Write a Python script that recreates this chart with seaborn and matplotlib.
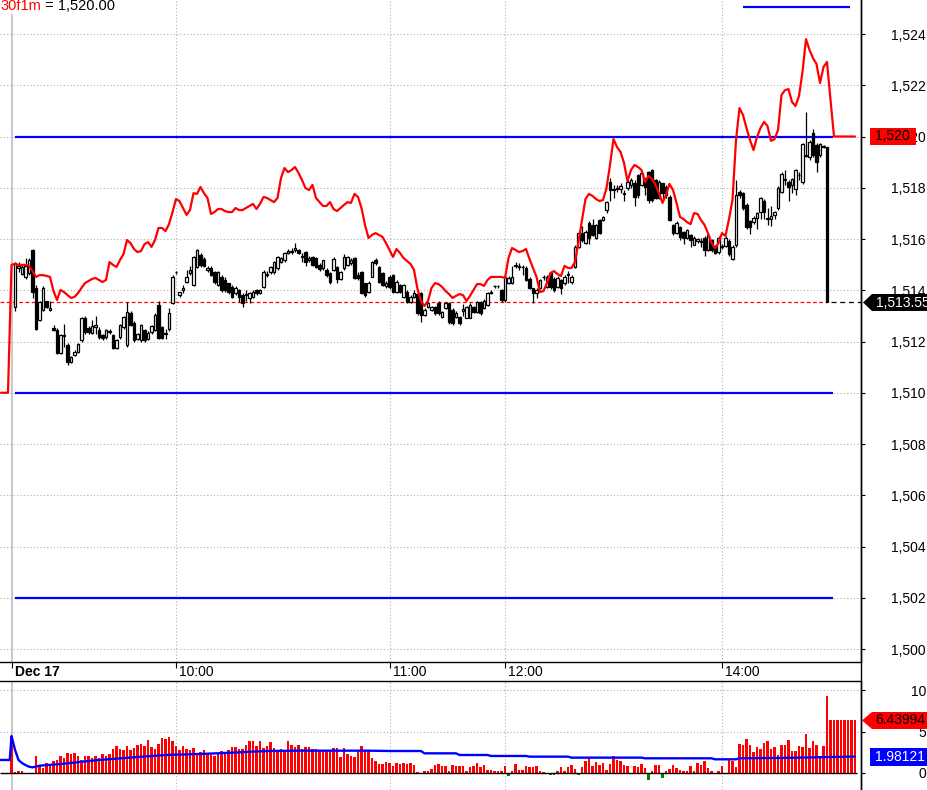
import numpy as np
import matplotlib
matplotlib.use("Agg")
import matplotlib.pyplot as plt
import seaborn as sns
from matplotlib.patches import Polygon
from matplotlib.lines import Line2D

# ---------------- data ----------------
opens = [
1513.35,1514.85,1514.65,1514.50,1514.67,1515.57,1514.10,1512.84,1513.23,1513.58,
1513.23,1512.53,1512.45,1511.55,1512.25,1511.87,1511.20,1511.48,1511.60,1512.06,
1512.92,1512.52,1512.35,1512.55,1512.45,1512.25,1512.17,1512.37,1512.25,1511.75,
1512.17,1512.55,1511.87,1513.11,1512.72,1512.10,1512.06,1512.45,1512.10,1512.37,
1512.45,1513.42,1512.55,1512.30,1512.50,1513.50,1514.70,1513.80,1514.00,1514.33,
1514.67,1514.20,1514.90,1515.37,1515.22,1514.79,1514.87,1514.71,1514.20,1514.52,
1514.40,1514.28,1514.13,1513.89,1514.01,1513.82,1513.80,1513.70,1513.74,1514.01,
1513.89,1514.13,1514.60,1514.71,1514.71,1514.87,1515.10,1515.18,1515.45,1515.50,
1515.57,1515.57,1515.30,1515.50,1515.18,1515.30,1515.26,1514.98,1514.87,1514.79,
1514.67,1514.79,1514.90,1514.44,1514.87,1514.98,1515.06,1515.26,1514.60,1514.71,
1514.28,1513.93,1514.52,1515.18,1514.90,1514.67,1514.17,1514.52,1514.60,1513.93,
1514.20,1513.74,1513.93,1513.54,1513.74,1513.85,1513.89,1513.03,1513.35,1513.23,
1513.35,1513.50,1512.95,1513.30,1513.50,1513.23,1512.95,1512.95,1513.20,1512.92,
1512.92,1513.35,1513.15,1513.54,1513.30,1513.42,1513.90,1514.15,1514.17,1514.01,
1513.62,1514.28,1514.30,1514.95,1514.90,1514.92,1514.87,1514.44,1514.09,1513.89,
1514.09,1514.50,1514.13,1514.67,1514.44,1514.13,1514.40,1514.28,1514.60,1514.32,
1514.90,1515.69,1516.23,1515.84,1516.62,1516.55,1516.04,1516.74,1516.75,1517.13,
1518.22,1517.90,1517.95,1517.95,1517.75,1517.99,1518.10,1518.18,1518.50,1518.10,
1518.38,1518.60,1518.69,1518.30,1517.60,1518.18,1518.03,1517.64,1516.55,1516.23,
1516.47,1516.27,1516.04,1516.16,1515.77,1515.92,1515.88,1516.04,1515.57,1515.96,
1515.69,1515.49,1515.70,1515.73,1515.92,1515.22,1515.77,1517.83,1517.80,1517.33,
1516.70,1516.66,1516.82,1517.05,1517.48,1516.80,1516.78,1516.93,1517.21,1517.83,
1518.30,1518.22,1518.10,1517.95,1518.48,1518.22,1519.25,1519.20,1520.13,1519.67,
1519.28,1519.60,1519.59]

highs = [
1515.10,1515.10,1515.00,1515.25,1515.25,1515.60,1514.20,1513.60,1514.15,1513.60,
1513.60,1512.65,1512.53,1512.30,1512.70,1511.95,1511.45,1511.65,1511.95,1512.95,
1513.00,1512.60,1512.85,1513.00,1512.55,1512.30,1512.50,1512.50,1512.30,1512.10,
1512.70,1513.00,1513.55,1513.20,1512.80,1512.35,1512.70,1512.50,1512.40,1512.65,
1513.10,1513.60,1512.60,1512.50,1513.30,1514.60,1514.75,1513.95,1514.20,1514.80,
1514.95,1515.35,1515.60,1515.45,1515.30,1514.95,1514.95,1514.75,1514.75,1514.60,
1514.50,1514.30,1514.20,1514.15,1514.05,1513.90,1514.00,1513.95,1514.00,1514.05,
1514.05,1514.80,1514.75,1514.95,1515.15,1515.35,1515.30,1515.50,1515.60,1515.65,
1515.85,1515.60,1515.45,1515.55,1515.35,1515.35,1515.30,1515.05,1515.20,1514.85,
1514.70,1515.30,1514.95,1514.75,1515.40,1515.35,1515.25,1515.30,1514.70,1514.75,
1514.30,1514.35,1515.15,1515.25,1514.95,1514.70,1514.35,1514.60,1514.65,1514.40,
1514.25,1514.25,1514.00,1513.80,1514.00,1513.90,1513.95,1513.30,1513.55,1513.40,
1513.40,1513.60,1513.20,1513.55,1513.55,1513.30,1513.20,1513.00,1513.45,1513.40,
1513.50,1513.40,1513.60,1513.60,1513.65,1513.95,1514.00,1514.20,1514.20,1514.05,
1514.60,1514.55,1514.95,1515.10,1515.05,1515.00,1514.95,1514.50,1514.10,1514.10,
1514.45,1514.60,1514.60,1514.75,1514.50,1514.55,1514.45,1514.60,1514.75,1514.60,
1515.75,1516.30,1516.50,1516.35,1516.70,1516.80,1516.60,1516.80,1516.90,1517.50,
1518.40,1518.10,1518.10,1518.20,1517.90,1518.30,1518.40,1518.30,1518.55,1518.60,
1518.40,1518.65,1518.75,1518.35,1518.30,1518.20,1518.10,1517.70,1516.60,1516.70,
1516.50,1516.30,1516.40,1516.20,1516.10,1516.05,1516.05,1516.10,1516.20,1516.00,
1515.75,1516.10,1515.80,1516.10,1516.00,1515.75,1518.30,1517.90,1517.85,1517.40,
1516.75,1516.90,1517.05,1517.65,1517.55,1517.20,1517.30,1517.10,1518.05,1518.60,
1518.70,1518.30,1518.40,1518.75,1518.60,1519.75,1520.95,1519.85,1520.30,1519.75,
1519.75,1519.65,1519.60]

lows = [
1513.20,1514.70,1514.60,1514.45,1514.60,1513.70,1512.45,1512.80,1513.20,1513.30,
1513.20,1512.40,1511.50,1511.50,1511.80,1511.10,1511.15,1511.45,1511.55,1512.00,
1512.30,1512.30,1512.30,1512.30,1512.10,1512.05,1512.10,1512.30,1511.70,1511.70,
1512.10,1512.50,1511.80,1512.60,1512.00,1512.05,1512.00,1512.00,1512.05,1512.30,
1512.40,1512.10,1512.10,1512.10,1512.40,1513.45,1514.65,1513.75,1513.90,1514.30,
1514.60,1514.15,1514.85,1514.90,1514.90,1514.70,1514.55,1514.25,1514.15,1513.95,
1513.95,1513.85,1513.70,1513.80,1513.55,1513.35,1513.60,1513.50,1513.70,1513.80,
1513.85,1514.10,1514.50,1514.65,1514.65,1514.80,1515.05,1515.10,1515.40,1515.40,
1515.50,1515.40,1515.10,1514.95,1515.10,1514.95,1514.85,1514.75,1514.80,1514.50,
1514.25,1514.75,1514.30,1514.40,1514.80,1514.95,1515.00,1514.45,1514.40,1513.85,
1513.75,1513.90,1514.50,1515.00,1514.30,1514.15,1514.10,1514.05,1513.90,1513.90,
1513.90,1513.70,1513.50,1513.50,1513.70,1513.05,1512.75,1513.00,1513.30,1513.20,
1513.05,1513.05,1512.90,1513.25,1512.70,1512.65,1512.90,1512.65,1513.00,1512.90,
1512.90,1513.10,1513.10,1513.05,1513.25,1513.40,1513.85,1514.10,1514.10,1513.55,
1513.55,1514.25,1514.25,1514.85,1514.80,1514.60,1514.35,1514.05,1513.50,1513.70,
1514.05,1514.40,1514.10,1514.05,1513.95,1514.10,1513.85,1514.20,1514.30,1514.25,
1514.85,1515.65,1515.90,1515.80,1515.80,1516.10,1516.00,1516.20,1516.70,1517.00,
1517.50,1517.60,1517.85,1517.80,1517.50,1517.90,1518.00,1517.30,1517.60,1518.05,
1517.70,1517.40,1517.45,1517.55,1517.55,1517.60,1517.60,1516.70,1516.15,1516.20,
1515.95,1515.80,1516.00,1515.70,1515.75,1515.85,1515.70,1515.35,1515.55,1515.50,
1515.40,1515.40,1515.60,1515.70,1515.35,1515.20,1515.70,1517.60,1517.15,1516.40,
1516.20,1516.60,1516.40,1516.80,1516.80,1516.55,1516.50,1516.80,1517.15,1517.80,
1518.10,1517.50,1517.80,1517.70,1518.30,1518.15,1519.20,1519.10,1519.20,1518.60,
1519.20,1519.55,1513.55]

closes = [
1515.06,1514.95,1514.90,1514.95,1515.18,1513.93,1512.50,1513.54,1514.09,1513.35,
1513.30,1512.45,1511.55,1512.25,1512.20,1511.20,1511.40,1511.60,1511.90,1512.92,
1512.37,1512.37,1512.60,1512.65,1512.17,1512.14,1512.45,1512.40,1511.75,1512.06,
1512.65,1512.95,1513.15,1512.65,1512.06,1512.30,1512.65,1512.06,1512.35,1512.60,
1513.03,1512.14,1512.14,1512.35,1513.10,1514.52,1514.71,1513.93,1514.10,1514.52,
1514.79,1515.30,1515.57,1514.98,1514.95,1514.87,1514.60,1514.32,1514.71,1514.01,
1514.01,1513.93,1513.74,1514.09,1513.74,1513.50,1513.85,1513.89,1513.93,1513.89,
1514.01,1514.71,1514.65,1514.90,1515.10,1515.30,1515.26,1515.45,1515.53,1515.50,
1515.65,1515.45,1515.30,1515.10,1515.26,1514.98,1514.90,1514.83,1515.18,1514.60,
1514.32,1515.22,1514.44,1514.71,1515.30,1515.30,1515.18,1514.48,1514.48,1513.89,
1513.82,1514.28,1515.10,1515.06,1514.32,1514.20,1514.28,1514.13,1513.93,1514.32,
1513.93,1514.20,1513.54,1513.74,1513.89,1513.11,1513.03,1513.23,1513.50,1513.35,
1513.11,1513.11,1513.15,1513.50,1512.76,1512.72,1513.11,1512.72,1513.25,1513.35,
1513.42,1513.15,1513.54,1513.11,1513.60,1513.89,1513.95,1514.17,1514.15,1513.62,
1514.52,1514.48,1514.50,1515.00,1514.95,1514.90,1514.40,1514.09,1513.89,1514.01,
1514.40,1514.52,1514.52,1514.13,1514.01,1514.48,1514.09,1514.52,1514.60,1514.52,
1515.69,1516.23,1515.96,1516.27,1516.04,1516.16,1516.55,1516.23,1516.85,1517.44,
1517.91,1517.95,1518.00,1518.05,1517.80,1518.22,1518.30,1517.64,1517.72,1518.57,
1518.03,1517.52,1517.52,1517.60,1518.22,1517.79,1517.72,1516.74,1516.23,1516.62,
1516.08,1516.04,1516.35,1515.96,1516.04,1516.00,1515.90,1515.57,1516.16,1515.57,
1515.45,1516.04,1515.72,1516.04,1515.41,1515.69,1517.72,1517.72,1517.21,1516.47,
1516.47,1516.82,1517.01,1517.60,1517.05,1516.82,1516.90,1517.05,1518.00,1518.53,
1518.32,1518.03,1518.34,1518.69,1518.50,1519.71,1519.28,1519.79,1519.28,1519.00,
1519.71,1519.62,1513.55]

# 30f1m reference line, starts 4 bars before the first candle
ref_start = -4
ref_line = [
1510.0,1510.0,1510.0,1514.99,
1515.03,1514.99,1514.99,1514.99,1514.95,1514.75,1514.52,1514.59,1514.59,1514.56,
1514.52,1513.97,1513.62,1514.01,1513.93,1513.81,1513.70,1513.74,1513.89,1514.09,
1514.28,1514.36,1514.44,1514.48,1514.40,1514.32,1514.40,1515.10,1514.99,1514.91,
1515.18,1515.41,1515.96,1515.84,1515.61,1515.49,1515.53,1515.80,1515.88,1515.69,
1515.96,1516.43,1516.43,1516.31,1516.58,1517.05,1517.56,1517.48,1517.21,1516.94,
1517.13,1517.79,1517.76,1518.03,1517.79,1517.60,1516.98,1517.05,1517.17,1517.17,
1517.09,1517.05,1517.05,1517.21,1517.13,1517.13,1517.21,1517.29,1517.37,1517.17,
1517.37,1517.64,1517.60,1517.52,1517.44,1517.60,1518.38,1518.77,1518.61,1518.69,
1518.81,1518.58,1518.30,1517.99,1517.91,1518.11,1517.60,1517.44,1517.29,1517.29,
1517.44,1517.17,1517.09,1517.21,1517.33,1517.44,1517.41,1517.76,1517.64,1517.21,
1516.55,1516.04,1516.16,1516.23,1516.16,1516.08,1515.84,1515.57,1515.30,1515.61,
1515.45,1515.26,1515.14,1515.03,1514.79,1514.05,1513.58,1513.39,1513.58,1514.09,
1514.28,1514.24,1514.13,1513.97,1513.85,1513.70,1513.78,1513.85,1513.81,1513.58,
1513.78,1514.01,1514.24,1514.24,1514.17,1514.40,1514.52,1514.52,1514.52,1514.52,
1514.48,1515.26,1515.65,1515.57,1515.49,1515.53,1515.61,1515.22,1514.87,1514.52,
1513.93,1513.97,1514.28,1514.67,1514.75,1514.63,1514.56,1514.95,1514.87,1514.87,
1515.10,1515.88,1516.74,1517.56,1517.76,1517.68,1517.56,1517.48,1517.52,1517.99,
1518.89,1519.90,1519.59,1519.40,1518.97,1518.26,1518.69,1518.89,1518.81,1518.69,
1518.22,1518.46,1518.34,1518.11,1517.79,1517.41,1517.72,1518.15,1517.91,1517.41,
1516.86,1516.78,1516.66,1516.58,1517.01,1516.98,1516.74,1516.55,1516.23,1515.84,
1515.65,1515.84,1516.23,1516.12,1516.78,1517.52,1519.86,1521.11,1520.84,1520.33,
1519.86,1519.47,1519.98,1520.33,1520.57,1520.41,1519.83,1519.90,1520.25,1521.62,
1521.81,1521.85,1521.35,1521.19,1521.58,1522.52,1523.80,1523.38,1523.06,1522.83,
1522.09,1522.71,1522.91,1521.43,1520.0,1520.0,1520.0,1520.0,1520.0,1520.0,1520.0]

# volume-type indicator (lower pane), same start as ref_line
volume = [
-0.05,-0.05,-0.05,4.45,
0.1,0.2,0.2,-0.05,-0.05,-0.05,2.0,1.0,0.6,1.2,
1.0,1.4,1.6,2.0,1.8,2.4,2.3,2.4,2.1,1.6,
2.0,2.0,1.8,2.1,1.8,2.3,2.1,2.3,2.9,3.2,
2.9,2.8,3.3,2.8,3.0,3.4,3.5,3.2,4.0,3.1,
2.9,3.5,4.2,4.1,4.3,3.9,3.2,2.8,3.2,2.9,
2.8,3.0,2.4,2.5,2.8,2.4,2.2,2.1,2.4,2.6,
2.4,2.8,3.1,3.1,2.9,2.9,3.4,3.8,3.8,3.2,
3.8,3.0,3.2,3.7,3.0,2.8,2.9,2.8,3.9,3.4,
3.1,3.4,2.9,3.1,3.1,2.9,2.9,2.6,2.8,2.6,
2.6,3.0,3.0,1.9,3.0,2.3,2.1,1.9,2.6,3.3,
2.8,2.6,1.8,1.4,1.1,1.1,1.3,1.2,0.9,1.2,
1.1,1.2,1.1,1.2,1.0,0.1,0.0,0.2,0.3,0.5,
1.0,1.1,0.9,0.8,0.2,1.0,0.8,0.8,0.8,0.3,
0.7,0.8,1.2,0.7,1.0,0.4,0.4,0.3,0.3,0.2,
0.9,-0.4,0.2,1.1,0.4,0.4,0.9,0.7,0.7,0.9,
0.3,0.1,-0.1,-0.2,-0.3,0.2,0.7,0.2,0.7,1.0,
0.5,-0.3,0.7,1.5,1.9,0.8,1.3,1.0,1.2,0.4,
1.1,2.1,1.6,1.5,1.0,0.8,-0.1,0.8,0.7,1.1,
0.6,-0.9,0.3,1.0,1.0,-0.6,0.3,0.5,1.0,0.6,
0.4,0.3,0.2,0.8,0.3,1.2,1.0,1.4,0.6,0.2,
0.05,0.2,0.8,0.0,1.7,1.4,0.7,3.5,3.4,4.1,
3.4,2.5,3.1,2.9,3.6,3.8,2.9,3.1,2.2,3.4,
3.4,4.0,2.7,2.7,3.2,3.1,4.7,3.0,3.8,3.4,
2.1,3.3,9.3,6.43994,6.43994,6.43994,6.43994,6.43994,6.43994,6.43994,6.43994]

vol_avg_bar = [-4.3, -1.5, -1, 0, 1, 2, 3, 4, 5, 7, 13, 24, 34, 43, 53, 62, 72, 81, 101, 107,
               116, 117, 126, 127, 135, 136, 146, 147, 158, 159, 179, 180, 199, 200, 206, 207, 220, 240]
vol_avg = [1.57, 1.57, 4.45, 2.8, 1.57, 1.2, 0.96, 0.76, 0.68, 0.88, 1.08, 1.57, 1.89, 2.17, 2.29, 2.45, 2.65, 2.69, 2.69, 2.65,
           2.65, 2.37, 2.37, 2.17, 2.17, 2.05, 2.05, 1.97, 1.97, 1.85, 1.85, 1.77, 1.77, 1.65, 1.65, 1.77, 1.82, 1.98121]

levels = [1520, 1510, 1502]
upper_level = 1525.04
time_ticks = [-1, 46, 107, 140, 202]
time_labels = ["Dec 17", "10:00", "11:00", "12:00", "14:00"]
price_ticks = list(range(1500, 1525, 2))
vol_ticks = [0, 5, 10]

# ---------------- figure ----------------
sns.set_theme(style="white")
plt.rcParams["font.family"] = ["Liberation Sans", "DejaVu Sans"]

W, H = 927, 790
fig = plt.figure(figsize=(W / 100, H / 100), dpi=100, facecolor="white")

def fx(px):
    return px / W

def fy(py):
    return 1 - py / H

ax = fig.add_axes([0, fy(662), fx(861), 662 / H])
axv = fig.add_axes([0, 0, fx(861), fy(681)])

XL = (-15 / 3.5, (861 - 15) / 3.5)
GRID = dict(color="#b0b0b0", linestyle=(0, (1, 2)), linewidth=0.8)

o = np.array(opens); h = np.array(highs); l = np.array(lows); c = np.array(closes)
idx = np.arange(len(o))
up = c >= o
bottom = np.minimum(o, c)
height = np.maximum(np.abs(c - o), 0.025)

# grid
for a in (ax, axv):
    for t in time_ticks:
        if t == time_ticks[0]:
            a.axvline(t, color="#c4c4c4", linewidth=1.3, zorder=0)
        else:
            a.axvline(t, zorder=0, **GRID)
for p in price_ticks:
    ax.axhline(p, zorder=0, **GRID)
for v in vol_ticks[1:]:
    axv.axhline(v, zorder=0, **GRID)

# level lines
ax.hlines(levels, 0, 233.7, colors="#0000ff", linewidth=1.6, zorder=2)
ax.hlines(upper_level, 208, 238.6, colors="#0000ff", linewidth=1.6, zorder=2)
# last price dashed line
ax.hlines(c[-1], XL[0], idx[-1], colors="#ff0000", linestyles=(0, (3, 2)), linewidth=0.9, zorder=1)
ax.hlines(c[-1], idx[-1] + 1.2, XL[1], colors="black", linestyles=(0, (4, 3)), linewidth=0.9, zorder=1)

# candles
ax.vlines(idx, l, h, colors="black", linewidth=0.9, zorder=3)
ax.bar(idx[up], height[up], bottom=bottom[up], width=0.8, color="white",
       edgecolor="black", linewidth=0.9, zorder=4)
ax.bar(idx[~up], height[~up], bottom=bottom[~up], width=0.8, color="black",
       edgecolor="black", linewidth=0.9, zorder=4)

# reference red line
ref_x = np.arange(ref_start, ref_start + len(ref_line))
sns.lineplot(x=ref_x, y=ref_line, ax=ax, color="#ff0000", linewidth=1.6,
             estimator=None, sort=False, zorder=5)

ax.set_xlim(*XL)
ax.set_ylim(1525.327 - 662 / 25.625, 1525.327)
ax.set_xlabel(""); ax.set_ylabel("")

# volume pane
vol = np.array(volume)
vx = np.arange(ref_start, ref_start + len(vol))
vcol = ["#ff0000" if v >= 0 else "#008000" for v in vol]
axv.bar(vx, vol, width=0.7, color=vcol, linewidth=0, zorder=2)
axv.hlines(0, XL[0], 240.5, colors="black", linewidth=1.0, zorder=3)
sns.lineplot(x=vol_avg_bar, y=vol_avg, ax=axv, color="#0000ff", linewidth=1.7,
             estimator=None, sort=False, zorder=4)
axv.set_xlim(*XL)
axv.set_ylim(-17 / 8.3, 92 / 8.3)
axv.set_xlabel(""); axv.set_ylabel("")

# spines
for a, shown in ((ax, ("right", "bottom")), (axv, ("right", "top"))):
    for s, sp in a.spines.items():
        sp.set_visible(s in shown)
        sp.set_color("black")
        sp.set_linewidth(1.0)

# y ticks on the right, right-aligned labels
pad_pt = (926 - 861) * 0.72 - 3
ax.yaxis.tick_right()
ax.set_yticks(price_ticks)
ax.set_yticklabels([f"{p:,}" for p in price_ticks])
axv.yaxis.tick_right()
axv.set_yticks(vol_ticks)
axv.set_yticklabels([str(v) for v in vol_ticks])
for a in (ax, axv):
    a.tick_params(axis="y", right=True, left=False, labelright=True, labelleft=False,
                  direction="out", length=3, width=0.8, colors="black",
                  pad=pad_pt, labelsize=10)
    plt.setp(a.get_yticklabels(), ha="right")

# x ticks
ax.set_xticks(time_ticks)
ax.set_xticklabels([""] * len(time_ticks))
ax.tick_params(axis="x", bottom=True, direction="out", length=4, width=0.8, colors="black")
axv.set_xticks(time_ticks)
axv.tick_params(axis="x", bottom=False, labelbottom=False)
for t, lab in zip(time_ticks, time_labels):
    ax.annotate(lab, xy=(t, 0), xycoords=ax.get_xaxis_transform(),
                xytext=(2.5, -6.9), textcoords="offset points",
                ha="left", va="center", fontsize=10,
                fontweight="bold" if lab == time_labels[0] else "normal",
                color="black", annotation_clip=False)

# full-height right border
fig.add_artist(Line2D([fx(861), fx(861)], [0, 1], color="black", linewidth=1.0,
                      transform=fig.transFigure))

# title
t1 = fig.text(fx(0.5), fy(6.5), "30f1m", color="#ff0000", fontsize=10.5, va="center", ha="left",
              bbox=dict(facecolor="white", edgecolor="none", pad=0.5))
fig.canvas.draw()
bb = t1.get_window_extent(fig.canvas.get_renderer())
fig.text(bb.x1 / W, fy(6.5), f" = {ref_line[-1]:,.2f}", color="black", fontsize=10.5,
         va="center", ha="left", bbox=dict(facecolor="white", edgecolor="none", pad=0.5))

# price labels on right axis
def add_poly(pts, color):
    fig.add_artist(Polygon([(fx(x), fy(y)) for x, y in pts], closed=True,
                           facecolor=color, edgecolor="none", transform=fig.transFigure, zorder=10))

add_poly([(870, 128), (916, 128), (916, 145), (870, 145)], "#ff0000")
fig.text(fx(875), fy(136.5), f"{ref_line[-1]:,.0f}", color="black", fontsize=10,
         va="center", ha="left", zorder=11)

add_poly([(863, 302.5), (872, 294), (927, 294), (927, 311), (872, 311)], "black")
fig.text(fx(876), fy(302.5), f"{closes[-1]:,.2f}", color="white", fontsize=10,
         va="center", ha="left", zorder=11)

add_poly([(862, 720.5), (872, 712), (927, 712), (927, 729), (872, 729)], "#ff0000")
fig.text(fx(875), fy(720.5), f"{volume[-1]:.5f}", color="black", fontsize=10,
         va="center", ha="left", zorder=11)

add_poly([(870, 748), (927, 748), (927, 766), (870, 766)], "#0000ff")
fig.text(fx(875), fy(757), f"{vol_avg[-1]:.5f}", color="white", fontsize=10,
         va="center", ha="left", zorder=11)

fig.savefig("out.png", dpi=100, facecolor="white")
